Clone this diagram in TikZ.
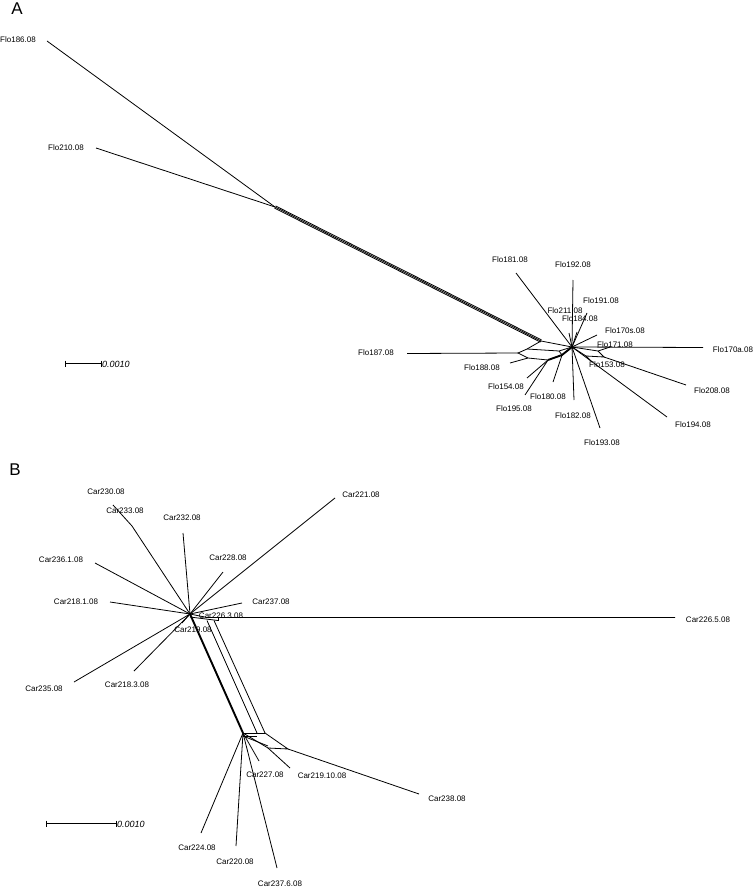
\documentclass[tikz,border=0pt]{standalone}
\usepackage{fontspec}
\setmainfont{Liberation Sans}
\usetikzlibrary{positioning,calc}
\tikzset{
  taxon/.style={font=\fontsize{8}{9}\selectfont, inner sep=0pt},
  panel/.style={font=\fontsize{17}{18}\selectfont, inner sep=0pt},
  splitline/.style={line width=0.8pt, black},
  heavyline/.style={line width=1.9pt, black},
  scalebar/.style={line width=0.8pt, black},
}
\begin{document}
\begin{tikzpicture}[x=1pt,y=-1pt]
    \useasboundingbox (0,0) rectangle (754,888);
    % ---------------- Panel A ----------------
    \node[panel] (pA) at (17,9) {A};
    % junctions
    \coordinate (j1) at (275,207);
    \coordinate (j2) at (541,341);
    \coordinate (hA) at (572,347);
    \coordinate (b1) at (527,349);
    \coordinate (b2) at (518,353);
    \coordinate (b3) at (528,358);
    \coordinate (m1) at (559,351);
    \coordinate (e1) at (548,360);
    \coordinate (e2) at (562,355);
    \coordinate (r1) at (598,351);
    \coordinate (r2) at (610,347);
    \coordinate (r3) at (604,357);
    \coordinate (r4) at (586,356);
    % leaf ends
    \coordinate (a186) at (47,41);
    \coordinate (a210) at (96,148);
    \coordinate (a187) at (407,353.5);
    \coordinate (a188) at (510,363);
    \coordinate (a154) at (527,378);
    \coordinate (a195) at (525,395);
    \coordinate (a180) at (553,382);
    \coordinate (a181) at (516,273);
    \coordinate (a192) at (573,280);
    \coordinate (a182) at (574,400);
    \coordinate (a211) at (569,333);
    \coordinate (a184) at (577,332);
    \coordinate (a191) at (587,313);
    \coordinate (a170s) at (597,335);
    \coordinate (a170a) at (703,347.5);
    \coordinate (a153) at (592,362);
    \coordinate (a208) at (686,385);
    \coordinate (a194) at (667,417);
    \coordinate (a193) at (600,428);
    % long band
    \draw[splitline] (a186) -- (j1);
    \draw[splitline] (a210) -- (j1);
    \foreach \o in {-1.2,0,1.2}
        \draw[splitline] ($(j1)+(-0.45*\o,0.89*\o)$) -- ($(j2)+(-0.45*\o,0.89*\o)$);
    % boxes round the hub
    \draw[splitline] (j2) -- (hA);
    \draw[splitline] (j2) -- (b1) -- (b2) -- (b3) -- (e1);
    \draw[splitline] (b1) -- (m1) -- (hA);
    \draw[splitline] (m1) -- (e2);
    \draw[heavyline] (e1) -- (e2) -- (hA);
    \draw[splitline] (a187) -- (b2);
    \draw[splitline] (a188) -- (b3);
    \draw[splitline] (a154) -- (e1);
    \draw[splitline] (a195) -- (e1);
    \draw[splitline] (a180) -- (e2);
    \foreach \t in {a181,a192,a182,a211,a184,a191,a170s,a170a,a194,a193}
        \draw[splitline] (hA) -- (\t);
    \draw[splitline] (hA) -- (r1) -- (r2);
    \draw[splitline] (hA) -- (r4) -- (r3) -- (r1);
    \draw[splitline] (r3) -- (a208);
    \draw[splitline] (r4) -- (a153);
    % labels
    \node[taxon] (t186) at (18,40) {Flo186.08};
    \node[taxon] (t210) at (66,148) {Flo210.08};
    \node[taxon] (t181) at (510,260) {Flo181.08};
    \node[taxon] (t192) at (573,265) {Flo192.08};
    \node[taxon] (t191) at (601,301) {Flo191.08};
    \node[taxon] (t211) at (565,311) {Flo211.08};
    \node[taxon] (t184) at (580,319) {Flo184.08};
    \node[taxon] (t170s) at (625,331) {Flo170s.08};
    \node[taxon] (t171) at (615,345) {Flo171.08};
    \node[taxon] (t170a) at (733,350) {Flo170a.08};
    \node[taxon] (t187) at (376,353) {Flo187.08};
    \node[taxon] (t188) at (482,368) {Flo188.08};
    \node[taxon] (t153) at (607,365) {Flo153.08};
    \node[taxon] (t154) at (506,387) {Flo154.08};
    \node[taxon] (t180) at (548,397) {Flo180.08};
    \node[taxon] (t195) at (514,409) {Flo195.08};
    \node[taxon] (t182) at (573,416) {Flo182.08};
    \node[taxon] (t193) at (602,443) {Flo193.08};
    \node[taxon] (t208) at (712,391) {Flo208.08};
    \node[taxon] (t194) at (693,425) {Flo194.08};
    % scale bar
    \coordinate (sa1) at (65,363.5);
    \coordinate (sa2) at (101,363.5);
    \draw[scalebar] (sa1) -- (sa2);
    \draw[scalebar] ($(sa1)+(0,-3)$) -- ($(sa1)+(0,3)$);
    \draw[scalebar] ($(sa2)+(0,-3)$) -- ($(sa2)+(0,3)$);
    \node[taxon, font=\fontsize{9}{10}\selectfont\itshape, anchor=west] (sca) at (102,364) {0.0010};
    % ---------------- Panel B ----------------
    \node[panel] (pB) at (15,470) {B};
    \coordinate (hB) at (190,614);
    \coordinate (k) at (132,526);
    \coordinate (u1) at (207,617.5);
    \coordinate (u2) at (214,617.5);
    \coordinate (u3) at (218,617.5);
    \coordinate (v0) at (243,733);
    \coordinate (v1) at (257,733);
    \coordinate (v2) at (265,733);
    \coordinate (w1) at (268,748);
    \coordinate (w2) at (288,749);
    % leaf ends
    \coordinate (c230) at (113,505);
    \coordinate (c232) at (183,533);
    \coordinate (c221) at (335,498);
    \coordinate (c2361) at (95,563);
    \coordinate (c228) at (223,572);
    \coordinate (c2181) at (110,602);
    \coordinate (c237) at (242,603);
    \coordinate (c219) at (182,623);
    \coordinate (c2265) at (675,617.5);
    \coordinate (c235) at (74,682);
    \coordinate (c2183) at (134,671);
    \coordinate (c227) at (259,761);
    \coordinate (c21910) at (290,768);
    \coordinate (c238) at (419,794);
    \coordinate (c224) at (201,833);
    \coordinate (c220) at (236,846);
    \coordinate (c2376) at (277,868);
    % hub of the upper group
    \draw[splitline] (c230) -- (k) -- (hB);
    \foreach \t in {c232,c221,c2361,c228,c2181,c237,c219,c235,c2183}
        \draw[splitline] (hB) -- (\t);
    \draw[splitline] (hB) -- (u1) -- (u2) -- (u3) -- (c2265);
    \draw[splitline] ($(hB)+(0,3)$) -- ($(u3)+(0,3)$);
    \draw[splitline] (u3) -- ($(u3)+(0,3)$);
    % band down to the lower group
    \draw[heavyline] (hB) -- (v0);
    \draw[splitline] ($(u1)+(0,3)$) -- (v1);
    \draw[splitline] ($(u2)+(0,3)$) -- (v2);
    \draw[splitline] (v0) -- (v2);
    \draw[splitline] ($(v0)+(0,3)$) -- ($(v1)+(0,3)$);
    % lower group
    \draw[splitline] (v0) -- (w1) -- (w2) -- (v2);
    \draw[splitline] ($(v0)+(0,3)$) -- ($(w1)+(0,-2)$);
    \draw[splitline] (w2) -- (c238);
    \draw[splitline] (w1) -- (c21910);
    \foreach \t in {c227,c224,c220,c2376}
        \draw[splitline] (v0) -- (\t);
    % labels
    \node[taxon] (t230) at (106,492) {Car230.08};
    \node[taxon] (t233) at (125,511) {Car233.08};
    \node[taxon] (t232) at (182,518) {Car232.08};
    \node[taxon] (t221) at (361,495) {Car221.08};
    \node[taxon] (t2361) at (61,560) {Car236.1.08};
    \node[taxon] (t228) at (228,558) {Car228.08};
    \node[taxon] (t2181) at (76,602) {Car218.1.08};
    \node[taxon] (t237) at (271,602) {Car237.08};
    \node[taxon] (t2263) at (221,616) {Car226.3.08};
    \node[taxon] (t219) at (193,630) {Car219.08};
    \node[taxon] (t2265) at (708,620) {Car226.5.08};
    \node[taxon] (t235) at (44,689) {Car235.08};
    \node[taxon] (t2183) at (127,685) {Car218.3.08};
    \node[taxon] (t227) at (265,775) {Car227.08};
    \node[taxon] (t21910) at (322,776) {Car219.10.08};
    \node[taxon] (t238) at (447,799) {Car238.08};
    \node[taxon] (t224) at (197,848) {Car224.08};
    \node[taxon] (t220) at (235,862) {Car220.08};
    \node[taxon] (t2376) at (280,884) {Car237.6.08};
    % scale bar
    \coordinate (sb1) at (46,823.5);
    \coordinate (sb2) at (116,823.5);
    \draw[scalebar] (sb1) -- (sb2);
    \draw[scalebar] ($(sb1)+(0,-3)$) -- ($(sb1)+(0,3)$);
    \draw[scalebar] ($(sb2)+(0,-3)$) -- ($(sb2)+(0,3)$);
    \node[taxon, font=\fontsize{9}{10}\selectfont\itshape, anchor=west] (scb) at (117,824) {0.0010};
\end{tikzpicture}
\end{document}
